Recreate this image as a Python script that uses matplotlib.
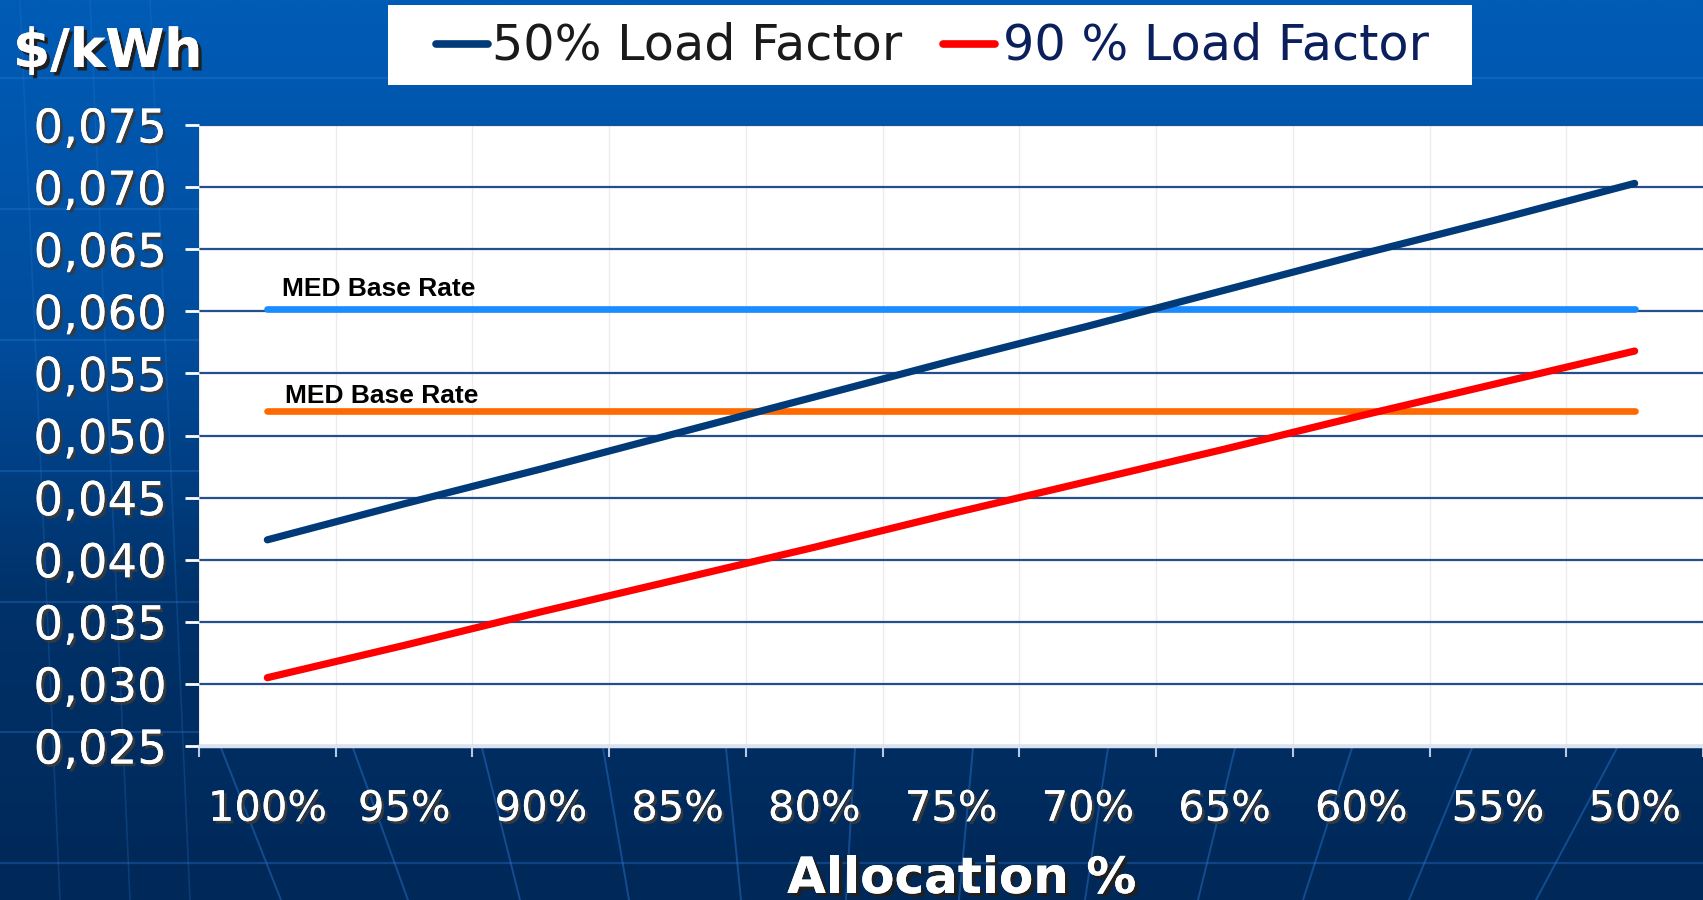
import numpy as np
import matplotlib
matplotlib.use("Agg")
import matplotlib.pyplot as plt
import matplotlib.patheffects as pe
from matplotlib.lines import Line2D
from matplotlib.patches import Rectangle
from matplotlib.colors import LinearSegmentedColormap

# ---------------- data ----------------
categories = ["100%", "95%", "90%", "85%", "80%", "75%", "70%", "65%", "60%", "55%", "50%"]
lf50 = [0.0416, 0.0445, 0.0473, 0.0502, 0.0531, 0.0560, 0.0588, 0.0617, 0.0646, 0.0674, 0.0703]
lf90 = [0.0305, 0.0331, 0.0358, 0.0384, 0.0410, 0.0437, 0.0463, 0.0489, 0.0516, 0.0542, 0.0568]
med_rate_blue = [0.0602] * len(categories)
med_rate_orange = [0.0520] * len(categories)
yticks = [0.025, 0.030, 0.035, 0.040, 0.045, 0.050, 0.055, 0.060, 0.065, 0.070, 0.075]
ytick_labels = ["0,025", "0,030", "0,035", "0,040", "0,045", "0,050", "0,055", "0,060", "0,065", "0,070", "0,075"]
legend_labels = ["50% Load Factor", "90 % Load Factor"]
annot_text = "MED Base Rate"

W, H = 1703, 900
fig = plt.figure(figsize=(W / 100, H / 100), dpi=100)

# ---------------- background ----------------
bg = fig.add_axes([0, 0, 1, 1], zorder=-10)
cmap = LinearSegmentedColormap.from_list(
    "bg",
    [(0.0, (0 / 255, 92 / 255, 182 / 255)),
     (0.38, (0 / 255, 76 / 255, 156 / 255)),
     (0.66, (0 / 255, 50 / 255, 106 / 255)),
     (1.0, (0 / 255, 40 / 255, 88 / 255))])
grad = np.linspace(0, 1, 400).reshape(-1, 1)
bg.imshow(grad, aspect="auto", cmap=cmap, extent=[0, W, H, 0])
bg.set_xlim(0, W)
bg.set_ylim(H, 0)
bg.axis("off")
# faint decorative lines
for yy in [78, 209, 340, 471, 602, 732, 863]:
    bg.plot([0, W], [yy, yy], color="#2a78d0", lw=1.6, alpha=0.35)
fan = [(221, 748, 281, 900), (353, 748, 408, 900), (482, 748, 520, 900),
       (603, 748, 629, 900), (726, 748, 741, 900), (855, 748, 846, 900),
       (973, 748, 959, 900), (1108, 748, 1085, 900), (1235, 748, 1198, 900),
       (1352, 748, 1303, 900), (1472, 748, 1409, 900), (1617, 748, 1536, 900)]
for x0, y0, x1, y1 in fan:
    bg.plot([x0, x1], [y0, y1], color="#2a78d0", lw=1.4, alpha=0.45)
for x0 in [20, 90, 150]:
    bg.plot([x0, x0 + 40], [0, 900], color="#2a78d0", lw=1.2, alpha=0.25)

# ---------------- main axes ----------------
left = 199 / W
right = 1.0
top = 1 - 125 / H
bottom = 1 - 746 / H
ax = fig.add_axes([left, bottom, right - left, top - bottom])
ax.set_facecolor("white")
x = np.arange(len(categories))

ax.set_xlim(-0.5, len(categories) - 0.5)
ax.set_ylim(0.025, 0.075)

# grid
for yv in yticks:
    ax.axhline(yv, color="#244f8a", lw=1.6, zorder=1)
for xb in np.arange(-0.5, len(categories), 1.0):
    ax.axvline(xb, color="#ececec", lw=1.0, zorder=0.5)

ax.plot(x, med_rate_blue, color="#1a8cff", lw=4.8, solid_capstyle="round", zorder=3)
ax.plot(x, med_rate_orange, color="#ff6a00", lw=4.8, solid_capstyle="round", zorder=3)
l1, = ax.plot(x, lf50, color="#003a78", lw=5.2, solid_capstyle="round", zorder=4)
l2, = ax.plot(x, lf90, color="#ff0000", lw=5.2, solid_capstyle="round", zorder=4)

annot_font = ["Liberation Sans Narrow", "Liberation Sans", "DejaVu Sans"]
ax.text(0.106, med_rate_blue[0] + 0.00105, annot_text, fontsize=19, fontweight="bold",
        family=annot_font, color="black", va="baseline", ha="left", zorder=5)
ax.text(0.128, med_rate_orange[0] + 0.00065, annot_text, fontsize=19, fontweight="bold",
        family=annot_font, color="black", va="baseline", ha="left", zorder=5)

shadow = [pe.withSimplePatchShadow(offset=(2, -2), shadow_rgbFace="#3a3a3a", alpha=0.95),
          pe.Normal()]

ax.set_yticks(yticks)
ax.set_yticklabels(ytick_labels)
ax.set_xticks(x)
ax.set_xticklabels(categories)
ax.set_xticks(np.arange(-0.5, len(categories), 1.0), minor=True)
ax.tick_params(axis="y", which="major", length=10, width=2, color="white",
               pad=13, labelsize=33.5, labelcolor="white")
ax.tick_params(axis="x", which="major", length=0, pad=30, labelsize=30, labelcolor="white")
ax.tick_params(axis="x", which="minor", length=8, width=1.5, color="#b8c8e0", direction="out")
for lab in ax.get_yticklabels() + ax.get_xticklabels():
    lab.set_path_effects(shadow)

for s in ["top", "right", "left"]:
    ax.spines[s].set_visible(False)
ax.spines["bottom"].set_color("#d8e2f0")
ax.spines["bottom"].set_linewidth(2.5)

# ---------------- titles ----------------
bold_shadow = [pe.withSimplePatchShadow(offset=(2.5, -2.5), shadow_rgbFace="#202020", alpha=1),
               pe.Normal()]
fig.text(13 / W, 1 - 52 / H, "$/kWh", fontsize=38.5, fontweight="bold", color="white",
         ha="left", va="center", path_effects=bold_shadow)
fig.text(962 / W, 1 - 879 / H, "Allocation %", fontsize=36, fontweight="bold", color="white",
         ha="center", va="center", path_effects=bold_shadow)

# ---------------- legend box ----------------
fig.patches.append(Rectangle((388 / W, 1 - 85 / H), (1472 - 388) / W, 80 / H,
                             transform=fig.transFigure, facecolor="white",
                             edgecolor="none", zorder=5))
legend_items = [(l1, 436, 492, "#1a1a1a"), (l2, 943, 1003, "#0a1f5c")]
for (line, hx0, tx, tcol), lab in zip(legend_items, legend_labels):
    fig.lines.append(Line2D([hx0 / W, (hx0 + 52) / W], [1 - 44 / H, 1 - 44 / H],
                            transform=fig.transFigure, color=line.get_color(),
                            lw=5.5, solid_capstyle="round", zorder=6))
    fig.text(tx / W, 1 - 46 / H, lab, fontsize=35.5, color=tcol, ha="left", va="center",
             zorder=7)

fig.savefig("out.png", dpi=100)
